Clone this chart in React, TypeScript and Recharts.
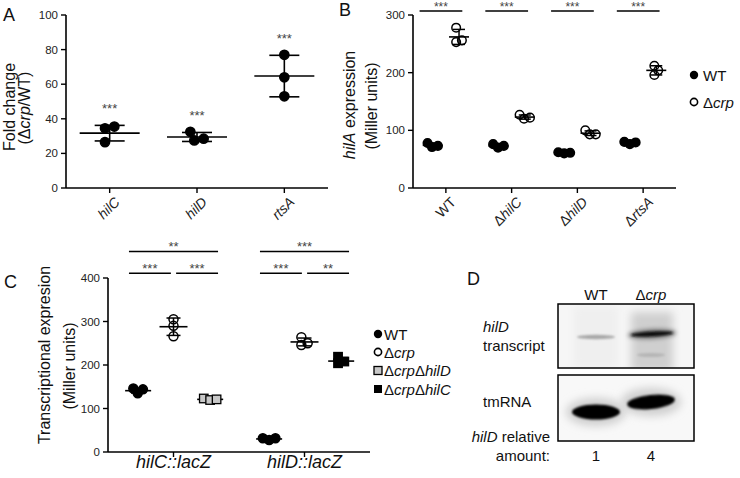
import React from 'react';
import { ScatterChart, Scatter, XAxis, YAxis, ErrorBar, ReferenceLine } from 'recharts';

const FONT = '"Liberation Sans", Arial, Helvetica, sans-serif';
const INK = '#000';
const TICK_FILL = '#222';
const STAR_FILL = '#444';

// ---------- Panel A ----------
const A_GENES = ['hilC', 'hilD', 'rtsA'];
const A_REPLICATES = [[35.5, 34.5, 26.5], [32.5, 27.5, 28.5], [77, 64, 53]];
const A_MEAN = [31.7, 29.5, 64.7];
const A_SD = [4.5, 2.6, 12.0];
const A_SIG = ['***', '***', '***'];
const A_Y_TICKS = [0, 20, 40, 60, 80, 100];

// ---------- Panel B ----------
const B_STRAINS = ['WT', 'ΔhilC', 'ΔhilD', 'ΔrtsA'];
const B_WT_REPS = [[78, 71, 73], [76, 70, 73], [62, 60, 61], [80, 76, 79]];
const B_WT_MEAN = [74, 73, 61, 78];
const B_WT_SD = [3.6, 3, 1, 2];
const B_CRP_REPS = [[278, 253, 256], [127, 122, 120], [100, 93, 93], [212, 196, 204]];
const B_CRP_MEAN = [262, 123, 95, 204];
const B_CRP_SD = [13, 3.6, 4, 8];
const B_SIG = ['***', '***', '***', '***'];
const B_Y_TICKS = [0, 100, 200, 300];
const B_LEGEND = ['WT', 'Δcrp'];

// ---------- Panel C ----------
const C_REPORTERS = ['hilC::lacZ', 'hilD::lacZ'];
const C_WT_REPS = [[146, 135, 144], [31.5, 27.6, 31.5]];
const C_WT_MEAN = [141, 30];
const C_WT_SD = [5.5, 2.2];
const C_CRP_REPS = [[305, 290, 266], [264, 246, 250]];
const C_CRP_MEAN = [288, 253];
const C_CRP_SD = [20, 9];
const C_DHILD_REPS = [[123, 119.5, 121], null];
const C_DHILD_MEAN = [121, null];
const C_DHILD_SD = [2, null];
const C_DHILC_REPS = [null, [219, 204, 208]];
const C_DHILC_MEAN = [null, 209];
const C_DHILC_SD = [null, 8];
const C_SIG_WT_VS_CRP = ['***', '***'];
const C_SIG_CRP_VS_MUT = ['***', '**'];
const C_SIG_WT_VS_MUT = ['**', '***'];
const C_Y_TICKS = [0, 100, 200, 300, 400];
const C_LEGEND = ['WT', 'Δcrp', 'ΔcrpΔhilD', 'ΔcrpΔhilC'];

// ---------- Panel D ----------
const D_LANES = ['WT', 'Δcrp'];
const D_RELATIVE = [1, 4];

// ---------- helpers ----------
function renderLabel(label: string, italicAll: boolean) {
  if (label.indexOf('Δ') === -1) {
    return <tspan fontStyle={italicAll ? 'italic' : 'normal'}>{label}</tspan>;
  }
  const parts = label.split('Δ');
  const out: any[] = [];
  parts.forEach((p, i) => {
    if (i > 0) out.push(<tspan key={'d' + i} fontStyle="normal">Δ</tspan>);
    if (p) out.push(<tspan key={'p' + i} fontStyle="italic">{p}</tspan>);
  });
  return out;
}

function swarmOffsets(values: number[], pxPerUnit: number, d: number) {
  const order = values.map((_, i) => i).sort((a, b) => values[a] - values[b]);
  const placed: { x: number; y: number }[] = [];
  const out = new Array(values.length).fill(0);
  for (const i of order) {
    const y = values[i] * pxPerUnit;
    const cands = [0];
    for (const p of placed) {
      const dy = Math.abs(p.y - y);
      if (dy < d) {
        const dx = Math.sqrt(d * d - dy * dy) + 0.01;
        cands.push(p.x + dx, p.x - dx);
      }
    }
    cands.sort((a, b) => Math.abs(a) - Math.abs(b));
    const x = cands.find((c) => placed.every((p) => (p.x - c) ** 2 + (p.y - y) ** 2 >= d * d - 0.1));
    const xx = x === undefined ? 0 : x;
    placed.push({ x: xx, y });
    out[i] = xx;
  }
  const mn = Math.min(...out);
  const mx = Math.max(...out);
  const c = (mn + mx) / 2;
  return out.map((v) => v - c);
}

function buildPoints(reps: (number[] | null)[], offset: number, pxPerUnit: number, d: number) {
  const out: any[] = [];
  reps.forEach((r, ci) => {
    if (!r) return;
    const dx = swarmOffsets(r, pxPerUnit, d);
    r.forEach((v, ri) => out.push({ x: ci + offset, y: v, dx: dx[ri] }));
  });
  return out;
}

function buildSummary(means: (number | null)[], sds: (number | null)[], offset: number) {
  const out: any[] = [];
  means.forEach((m, ci) => {
    if (m == null) return;
    out.push({ x: ci + offset, y: m, sd: sds[ci] });
  });
  return out;
}

const dotShape = (fill: string, r: number) => (p: any) => (
  <circle cx={p.cx + (p.payload.dx || 0)} cy={p.cy} r={r} fill={fill} stroke={INK} strokeWidth={1.5} />
);
const squareShape = (fill: string, s: number) => (p: any) => (
  <rect x={p.cx + (p.payload.dx || 0) - s / 2} y={p.cy - s / 2} width={s} height={s} fill={fill} stroke={INK} strokeWidth={1.3} />
);
const meanShape = (half: number) => (p: any) => (
  <line x1={p.cx - half} x2={p.cx + half} y1={p.cy} y2={p.cy} stroke={INK} strokeWidth={1.6} />
);

const yTick = { fontSize: 11.5, fill: TICK_FILL, fontFamily: FONT };
const axisLine = { stroke: INK, strokeWidth: 1.6 };
const tickLine = { stroke: INK, strokeWidth: 1.4 };

const RotTick = (props: any) => {
  const { x, y, payload, labels, italic } = props;
  const ax = x + 11;
  const ay = y + 8;
  return (
    <text x={ax} y={ay} transform={`rotate(-45 ${ax} ${ay})`} textAnchor="end" fontSize={14} fontFamily={FONT} fill={TICK_FILL}>
      {renderLabel(labels[payload.value], italic)}
    </text>
  );
};

const FlatTick = (props: any) => {
  const { x, y, payload } = props;
  return (
    <text x={x} y={y + 9} textAnchor="middle" fontSize={18} fontFamily={FONT} fontStyle="italic" fill="#111">
      {C_REPORTERS[payload.value]}
    </text>
  );
};

const starLabel = (value: string, size: number) => ({
  value,
  position: 'top' as const,
  offset: 0,
  fontSize: size,
  fill: STAR_FILL,
  fontFamily: FONT,
});

// ---------- Panel A chart ----------
function PanelA() {
  const PX = 173 / 100;
  const points = buildPoints(A_REPLICATES, 0, PX, 9.5);
  const summary = buildSummary(A_MEAN, A_SD, 0);
  const stars = A_MEAN.map((m, i) => ({ x: i, y: Math.max(m + A_SD[i], ...A_REPLICATES[i]), label: A_SIG[i] }));
  return (
    <ScatterChart width={340} height={230} margin={{ top: 15, right: 12, bottom: 0, left: 0 }}>
      <XAxis type="number" dataKey="x" domain={[-0.5, 2.5]} ticks={[0, 1, 2]} interval={0} height={42}
        axisLine={axisLine} tickLine={tickLine} tickSize={5}
        tick={(p: any) => <RotTick {...p} labels={A_GENES} italic={true} />} />
      <YAxis type="number" dataKey="y" domain={[0, 100]} ticks={A_Y_TICKS} interval={0} width={66}
        axisLine={axisLine} tickLine={tickLine} tickSize={5} tickMargin={3} tick={yTick} />
      <Scatter data={summary} isAnimationActive={false} shape={meanShape(30)}>
        <ErrorBar dataKey="sd" direction="y" width={15} stroke={INK} strokeWidth={1.6} isAnimationActive={false} />
      </Scatter>
      <Scatter data={points} isAnimationActive={false} shape={dotShape(INK, 4.6)} />
      <Scatter data={stars} isAnimationActive={false}
        shape={(p: any) => (
          <text x={p.cx} y={p.cy - 12} textAnchor="middle" fontSize={13} fill={STAR_FILL} fontFamily={FONT}>{p.payload.label}</text>
        )} />
    </ScatterChart>
  );
}

// ---------- Panel B chart ----------
function PanelB() {
  const PX = 173 / 300;
  const DODGE = 0.2;
  const wt = buildPoints(B_WT_REPS, -DODGE, PX, 6);
  const crp = buildPoints(B_CRP_REPS, DODGE, PX, 6);
  const wtSum = buildSummary(B_WT_MEAN, B_WT_SD, -DODGE);
  const crpSum = buildSummary(B_CRP_MEAN, B_CRP_SD, DODGE);
  return (
    <ScatterChart width={345} height={230} margin={{ top: 15, right: 9, bottom: 0, left: 0 }}>
      <XAxis type="number" dataKey="x" domain={[-0.5, 3.5]} ticks={[0, 1, 2, 3]} interval={0} height={42}
        axisLine={axisLine} tickLine={tickLine} tickSize={5}
        tick={(p: any) => <RotTick {...p} labels={B_STRAINS} italic={false} />} />
      <YAxis type="number" dataKey="y" domain={[0, 300]} ticks={B_Y_TICKS} interval={0} width={73}
        axisLine={axisLine} tickLine={tickLine} tickSize={5} tickMargin={3} tick={yTick} />
      {B_SIG.map((s, i) => (
        <ReferenceLine key={'sig' + i} segment={[{ x: i - 0.4, y: 307 }, { x: i + 0.25, y: 307 }]}
          stroke={INK} strokeWidth={1.5} ifOverflow="visible" label={starLabel(s, 12)} />
      ))}
      <Scatter data={wtSum} isAnimationActive={false} shape={meanShape(10)}>
        <ErrorBar dataKey="sd" direction="y" width={6} stroke={INK} strokeWidth={1.5} isAnimationActive={false} />
      </Scatter>
      <Scatter data={crpSum} isAnimationActive={false} shape={meanShape(10)}>
        <ErrorBar dataKey="sd" direction="y" width={6} stroke={INK} strokeWidth={1.5} isAnimationActive={false} />
      </Scatter>
      <Scatter data={wt} isAnimationActive={false} shape={dotShape(INK, 4.3)} />
      <Scatter data={crp} isAnimationActive={false} shape={dotShape('none', 4.3)} />
    </ScatterChart>
  );
}

// ---------- Panel C chart ----------
function PanelC() {
  const PX = 174 / 400;
  const OFF_WT = -0.27;
  const OFF_CRP = 0;
  const OFF_MUT = 0.28;
  const SIG_LOW = 411;
  const SIG_HIGH = 461;
  const wt = buildPoints(C_WT_REPS, OFF_WT, PX, 6.5);
  const crp = buildPoints(C_CRP_REPS, OFF_CRP, PX, 6.5);
  const dhilD = buildPoints(C_DHILD_REPS, OFF_MUT, PX, 6.5);
  const dhilC = buildPoints(C_DHILC_REPS, OFF_MUT, PX, 6.5);
  return (
    <ScatterChart width={380} height={248} margin={{ top: 48, right: 10, bottom: 0, left: 0 }}>
      <XAxis type="number" dataKey="x" domain={[-0.5, 1.5]} ticks={[0, 1]} interval={0} height={26}
        axisLine={axisLine} tickLine={tickLine} tickSize={5} tick={(p: any) => <FlatTick {...p} />} />
      <YAxis type="number" dataKey="y" domain={[0, 400]} ticks={C_Y_TICKS} interval={0} width={108}
        axisLine={axisLine} tickLine={tickLine} tickSize={5} tickMargin={3} tick={yTick} />
      {C_REPORTERS.map((_, i) => (
        <ReferenceLine key={'h' + i} segment={[{ x: i - 0.34, y: SIG_HIGH }, { x: i + 0.34, y: SIG_HIGH }]}
          stroke={INK} strokeWidth={1.5} ifOverflow="visible" label={starLabel(C_SIG_WT_VS_MUT[i], 13)} />
      ))}
      {C_REPORTERS.map((_, i) => (
        <ReferenceLine key={'l' + i} segment={[{ x: i - 0.34, y: SIG_LOW }, { x: i - 0.02, y: SIG_LOW }]}
          stroke={INK} strokeWidth={1.5} ifOverflow="visible" label={starLabel(C_SIG_WT_VS_CRP[i], 13)} />
      ))}
      {C_REPORTERS.map((_, i) => (
        <ReferenceLine key={'r' + i} segment={[{ x: i + 0.02, y: SIG_LOW }, { x: i + 0.34, y: SIG_LOW }]}
          stroke={INK} strokeWidth={1.5} ifOverflow="visible" label={starLabel(C_SIG_CRP_VS_MUT[i], 13)} />
      ))}
      <Scatter data={buildSummary(C_WT_MEAN, C_WT_SD, OFF_WT)} isAnimationActive={false} shape={meanShape(13)}>
        <ErrorBar dataKey="sd" direction="y" width={7} stroke={INK} strokeWidth={1.5} isAnimationActive={false} />
      </Scatter>
      <Scatter data={buildSummary(C_CRP_MEAN, C_CRP_SD, OFF_CRP)} isAnimationActive={false} shape={meanShape(14)}>
        <ErrorBar dataKey="sd" direction="y" width={7} stroke={INK} strokeWidth={1.5} isAnimationActive={false} />
      </Scatter>
      <Scatter data={buildSummary(C_DHILD_MEAN, C_DHILD_SD, OFF_MUT)} isAnimationActive={false} shape={meanShape(13)}>
        <ErrorBar dataKey="sd" direction="y" width={7} stroke={INK} strokeWidth={1.5} isAnimationActive={false} />
      </Scatter>
      <Scatter data={buildSummary(C_DHILC_MEAN, C_DHILC_SD, OFF_MUT)} isAnimationActive={false} shape={meanShape(13)}>
        <ErrorBar dataKey="sd" direction="y" width={7} stroke={INK} strokeWidth={1.5} isAnimationActive={false} />
      </Scatter>
      <Scatter data={wt} isAnimationActive={false} shape={dotShape(INK, 4.5)} />
      <Scatter data={crp} isAnimationActive={false} shape={dotShape('none', 4.5)} />
      <Scatter data={dhilD} isAnimationActive={false} shape={squareShape('#c8c8c8', 8.5)} />
      <Scatter data={dhilC} isAnimationActive={false} shape={squareShape(INK, 8.5)} />
    </ScatterChart>
  );
}

// ---------- Overlay (titles, axis titles, legends, panel D) ----------
function Overlay() {
  const t = { fontFamily: FONT, fill: '#111' };
  const legendMarker = (kind: string, x: number, y: number) => {
    if (kind === 'WT') return <circle cx={x} cy={y} r={4.2} fill={INK} />;
    if (kind === 'Δcrp') return <circle cx={x} cy={y} r={3.6} fill="none" stroke={INK} strokeWidth={1.6} />;
    if (kind === 'ΔcrpΔhilD') return <rect x={x - 4} y={y - 4} width={8} height={8} fill="#c8c8c8" stroke={INK} strokeWidth={1.3} />;
    return <rect x={x - 4} y={y - 4} width={8} height={8} fill={INK} />;
  };
  const BLEG_Y = [75, 102];
  const CLEG_Y = [334, 352, 370.5, 389];
  const LANE_X = [596, 651];
  return (
    <svg width={740} height={478} style={{ position: 'absolute', left: 0, top: 0, pointerEvents: 'none' }}>
      <defs>
        <filter id="blr1" x="-30%" y="-200%" width="160%" height="500%"><feGaussianBlur stdDeviation="1.2" /></filter>
        <filter id="blr2" x="-30%" y="-100%" width="160%" height="300%"><feGaussianBlur stdDeviation="2.2" /></filter>
        <filter id="blr4" x="-50%" y="-50%" width="200%" height="200%"><feGaussianBlur stdDeviation="4" /></filter>
        <clipPath id="clipTop"><rect x={558} y={304} width={136} height={64} /></clipPath>
        <clipPath id="clipBot"><rect x={558} y={375} width={136} height={66} /></clipPath>
      </defs>

      {/* panel letters */}
      <text x={3} y={21} fontSize={18} {...t}>A</text>
      <text x={339} y={16} fontSize={18} {...t}>B</text>
      <text x={4} y={288} fontSize={18} {...t}>C</text>
      <text x={467} y={285} fontSize={18} {...t}>D</text>

      {/* A axis title */}
      <text transform="translate(14.5,107) rotate(-90)" textAnchor="middle" fontSize={16} {...t}>Fold change</text>
      <text transform="translate(30,108) rotate(-90)" textAnchor="middle" fontSize={16} {...t}>
        (<tspan>Δ</tspan><tspan fontStyle="italic">crp</tspan>/WT)
      </text>

      {/* B axis title */}
      <text transform="translate(355,105) rotate(-90)" textAnchor="middle" fontSize={16} {...t}>
        <tspan fontStyle="italic">hilA</tspan> expression
      </text>
      <text transform="translate(376.5,106) rotate(-90)" textAnchor="middle" fontSize={16} {...t}>(Miller units)</text>

      {/* B legend */}
      {B_LEGEND.map((l, i) => (
        <g key={'bl' + i}>
          {legendMarker(l, 694, BLEG_Y[i])}
          <text x={703} y={BLEG_Y[i] + 5.5} fontSize={15} {...t}>{renderLabel(l, false)}</text>
        </g>
      ))}

      {/* C axis title */}
      <text transform="translate(50,355) rotate(-90)" textAnchor="middle" fontSize={16} {...t}>Transcriptional expresion</text>
      <text transform="translate(75,366) rotate(-90)" textAnchor="middle" fontSize={16} {...t}>(Miller units)</text>

      {/* C legend */}
      {C_LEGEND.map((l, i) => (
        <g key={'cl' + i}>
          {legendMarker(l, 378, CLEG_Y[i])}
          <text x={384} y={CLEG_Y[i] + 5.5} fontSize={15} {...t}>{renderLabel(l, false)}</text>
        </g>
      ))}

      {/* Panel D */}
      {D_LANES.map((l, i) => (
        <text key={'dl' + i} x={LANE_X[i]} y={300} textAnchor="middle" fontSize={15} {...t}>{renderLabel(l, false)}</text>
      ))}
      <text x={483} y={332} fontSize={15} fontStyle="italic" {...t}>hilD</text>
      <text x={483} y={351} fontSize={15} {...t}>transcript</text>
      <text x={483} y={407} fontSize={15} {...t}>tmRNA</text>
      <text x={550} y={442} textAnchor="end" fontSize={15} {...t}><tspan fontStyle="italic">hilD</tspan> relative</text>
      <text x={550} y={461} textAnchor="end" fontSize={15} {...t}>amount:</text>
      {D_RELATIVE.map((v, i) => (
        <text key={'dr' + i} x={LANE_X[i]} y={461} textAnchor="middle" fontSize={15} {...t}>{v}</text>
      ))}

      {/* top blot */}
      <rect x={558} y={304} width={136} height={64} fill="#f6f6f6" />
      <g clipPath="url(#clipTop)">
        <rect x={574} y={306} width={44} height={62} fill="#efefef" filter="url(#blr4)" />
        <rect x={631} y={312} width={42} height={60} fill="#cfcfcf" filter="url(#blr4)" />
        <ellipse cx={651} cy={355} rx={14} ry={2} fill="#b5b5b5" filter="url(#blr1)" />
        <ellipse cx={596} cy={337} rx={19} ry={2.2} fill="#a8a8a8" filter="url(#blr1)" />
        <ellipse cx={652} cy={334} rx={24} ry={5} fill="#777" filter="url(#blr2)" transform="rotate(-3 652 334)" />
        <ellipse cx={652} cy={334} rx={21} ry={2.4} fill="#111" filter="url(#blr1)" transform="rotate(-3 652 334)" />
      </g>
      <rect x={558} y={304} width={136} height={64} fill="none" stroke={INK} strokeWidth={1.5} />

      {/* bottom blot */}
      <rect x={558} y={375} width={136} height={66} fill="#f8f8f8" />
      <g clipPath="url(#clipBot)">
        <ellipse cx={596} cy={412} rx={30} ry={14} fill="#cfcfcf" filter="url(#blr4)" />
        <ellipse cx={651} cy={402} rx={30} ry={14} fill="#cfcfcf" filter="url(#blr4)" />
        <ellipse cx={596} cy={412} rx={24} ry={7.5} fill="#050505" filter="url(#blr1)" />
        <ellipse cx={651} cy={402} rx={24} ry={7} fill="#050505" filter="url(#blr1)" transform="rotate(-6 651 402)" />
      </g>
      <rect x={558} y={375} width={136} height={66} fill="none" stroke={INK} strokeWidth={1.5} />
    </svg>
  );
}

export default function App() {
  return (
    <div style={{ position: 'absolute', left: 0, top: 0, width: 740, height: 478, background: '#fff', fontFamily: FONT }}>
      <div style={{ position: 'absolute', left: 0, top: 0 }}><PanelA /></div>
      <div style={{ position: 'absolute', left: 340, top: 0 }}><PanelB /></div>
      <div style={{ position: 'absolute', left: 0, top: 230 }}><PanelC /></div>
      <Overlay />
    </div>
  );
}
